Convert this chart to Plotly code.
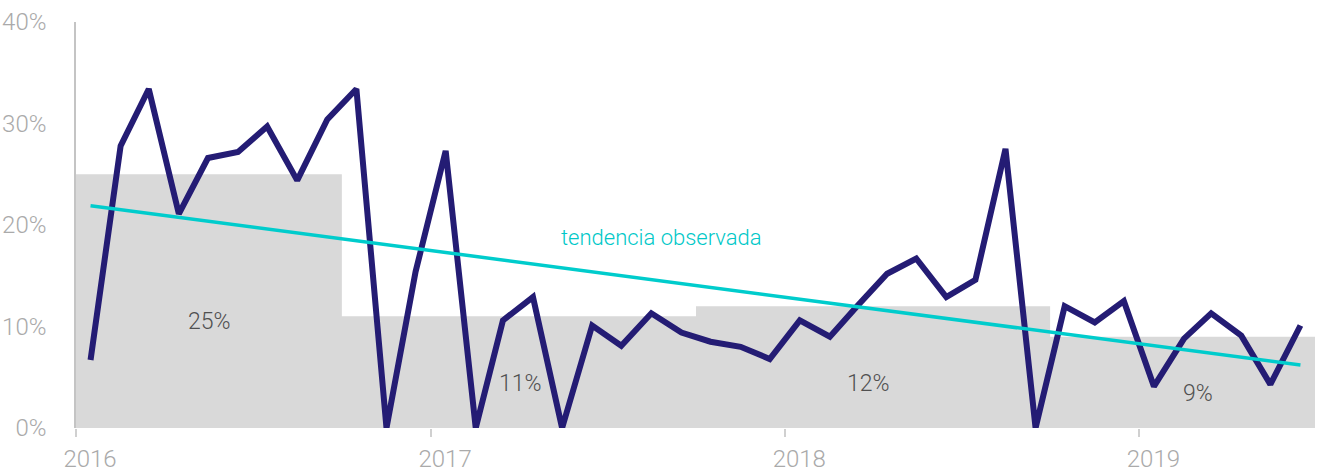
import plotly.graph_objects as go
import pandas as pd

# Monthly observations Jan 2016 - Jun 2019 (share)
months = (pd.date_range("2016-01-01", periods=42, freq="MS") + pd.Timedelta(days=15)).strftime("%Y-%m-%d").tolist()
values = [0.067, 0.278, 0.334, 0.211, 0.266, 0.272, 0.297, 0.244, 0.304, 0.334,
          0.000, 0.154, 0.273, 0.000, 0.106, 0.129, 0.000, 0.101, 0.081, 0.113,
          0.094, 0.085, 0.080, 0.068, 0.106, 0.090, 0.120, 0.152, 0.167, 0.129,
          0.146, 0.275, 0.000, 0.120, 0.104, 0.125, 0.041, 0.088, 0.113, 0.091,
          0.043, 0.101]

# Period averages (step bands)
period_edges = ["2016-01-01", "2016-10-01", "2017-10-01", "2018-10-01", "2019-07-01"]
period_values = [0.25, 0.11, 0.12, 0.09, 0.09]
period_labels = ["25%", "11%", "12%", "9%"]
label_x = ["2016-05-18", "2017-04-03", "2018-03-28", "2019-03-02"]
label_y = [0.105, 0.044, 0.044, 0.034]

# Observed trend (endpoints)
trend_x = [months[0], months[-1]]
trend_y = [0.219, 0.062]
trend_label = "tendencia observada"

year_ticks = ["2016-01-01", "2017-01-01", "2018-01-01", "2019-01-01"]
year_text = ["2016", "2017", "2018", "2019"]

FONT = "Roboto"

fig = go.Figure()
fig.add_trace(go.Scatter(x=period_edges, y=period_values, mode="lines",
                         line=dict(shape="hv", width=0, color="#D9D9D9"),
                         fill="tozeroy", fillcolor="#D9D9D9", hoverinfo="skip"))
fig.add_trace(go.Scatter(x=months, y=values, mode="lines",
                         line=dict(color="#241C74", width=6)))
fig.add_trace(go.Scatter(x=trend_x, y=trend_y, mode="lines",
                         line=dict(color="#00CCCC", width=3.5)))

for t, x, y in zip(period_labels, label_x, label_y):
    fig.add_annotation(x=x, y=y, text=t, showarrow=False,
                       font=dict(family=FONT, size=23, color="#505050", weight=300))
fig.add_annotation(x="2017-08-26", y=0.188, text=trend_label, showarrow=False,
                   font=dict(family=FONT, size=22, color="#00C8C8"))

fig.update_layout(
    width=1319, height=474,
    margin=dict(l=76, r=4, t=22, b=46, autoexpand=False),
    paper_bgcolor="white", plot_bgcolor="white",
    showlegend=False,
    font=dict(family=FONT, size=22, color="#AAAAAA", weight=300),
)
fig.update_xaxes(type="date", range=["2016-01-01", "2019-07-01"],
                 tickvals=year_ticks, ticktext=year_text, automargin=False,
                 showgrid=False, zeroline=False, showline=False,
                 ticks="outside", ticklen=8, tickwidth=1.5, tickcolor="#D0D0D0",
                 ticklabelstandoff=1, ticklabelshift=14,
                 tickfont=dict(family=FONT, size=24, color="#AAAAAA", weight=300))
fig.update_yaxes(range=[0, 0.40], tickvals=[0, 0.1, 0.2, 0.3, 0.4],
                 tickformat=".0%", showgrid=False, zeroline=False, automargin=False,
                 showline=True, linecolor="#C4C4C4", linewidth=1.5,
                 ticks="", ticklabelstandoff=23,
                 tickfont=dict(family=FONT, size=24, color="#AAAAAA", weight=300))

fig.write_html("out.html", config={"displayModeBar": False},
               post_script="document.body.style.margin='0';document.body.style.overflow='hidden';")
